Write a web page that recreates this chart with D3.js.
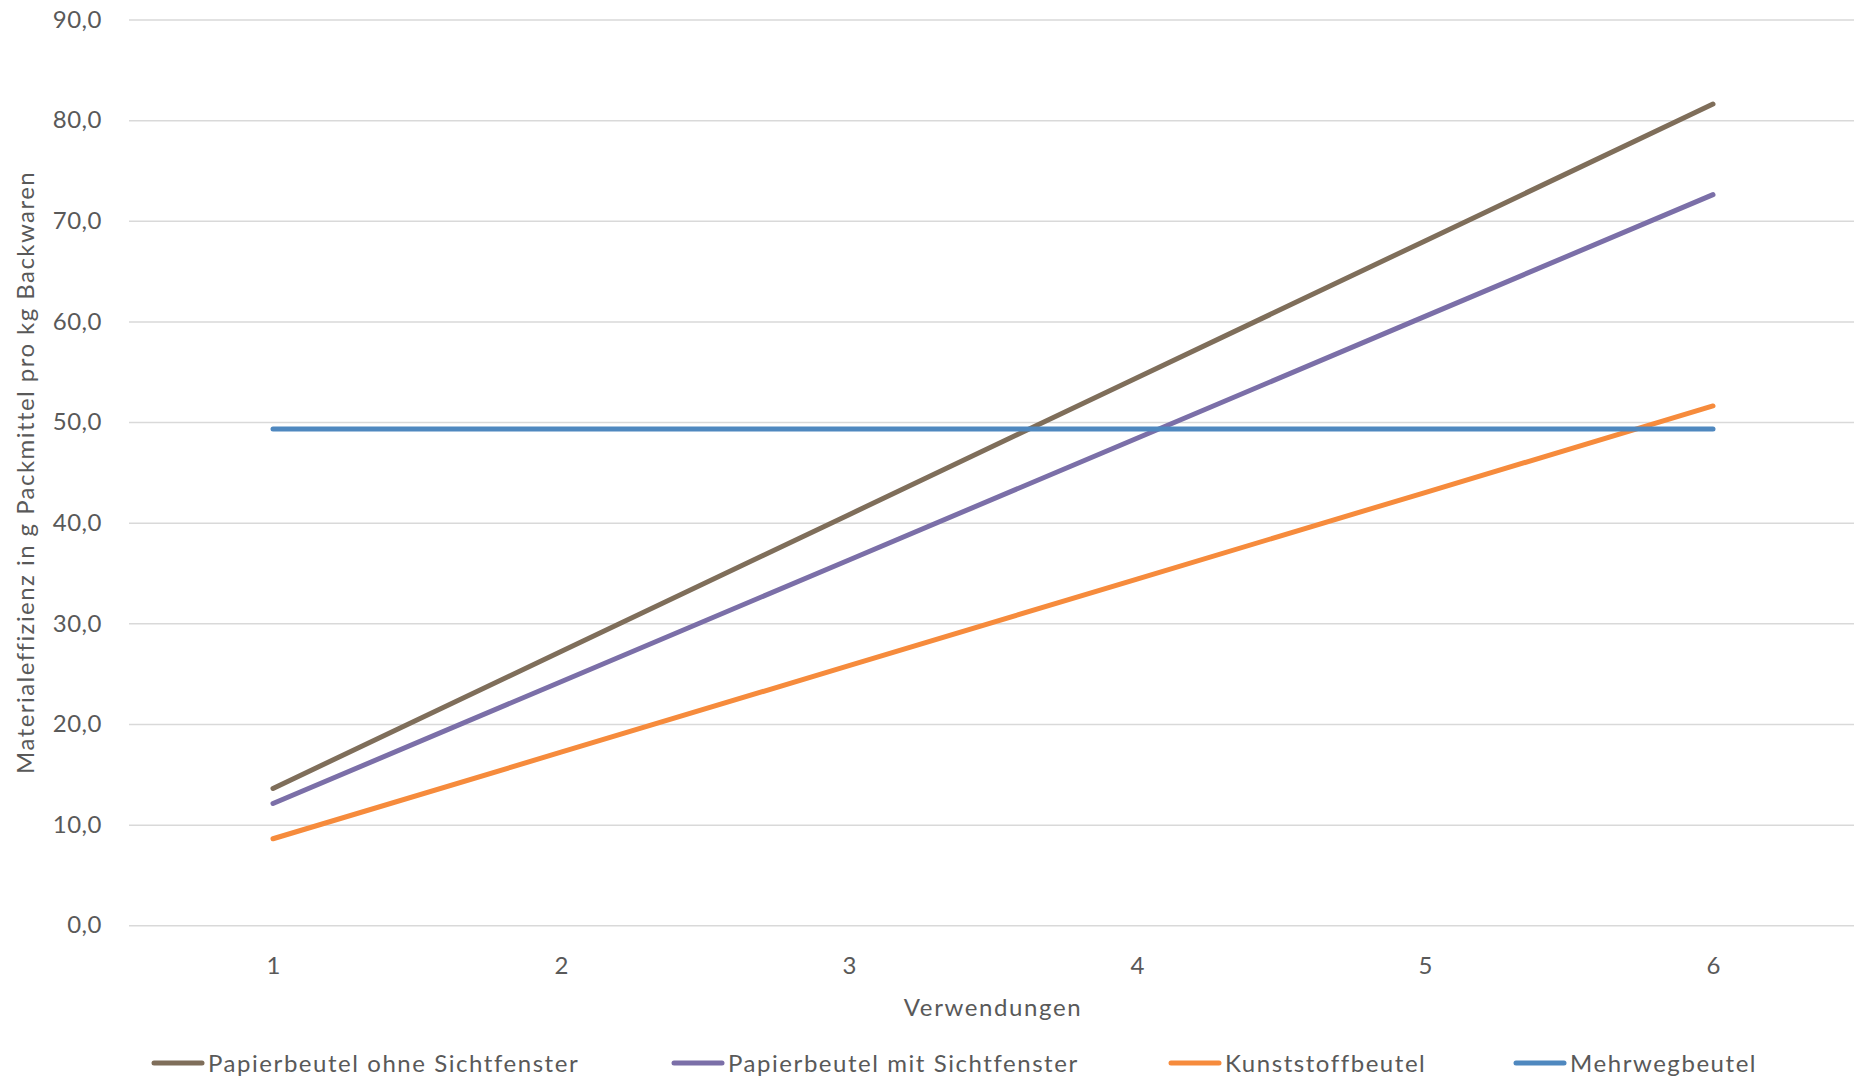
<!DOCTYPE html>
<html><head><meta charset="utf-8">
<script src="https://cdn.jsdelivr.net/npm/d3@7"></script>
<style>html,body{margin:0;padding:0;background:#fff;overflow:hidden}</style>
</head><body>
<svg id="c" width="1854" height="1079"></svg>
<script>
const categories = [1, 2, 3, 4, 5, 6];
const papierOhne = [13.6, 27.2, 40.8, 54.4, 68.0, 81.6];
const papierMit = [12.1, 24.2, 36.3, 48.4, 60.5, 72.6];
const kunststoff = [8.6, 17.2, 25.8, 34.4, 43.0, 51.6];
const mehrweg = [49.3, 49.3, 49.3, 49.3, 49.3, 49.3];
const seriesNames = ["Papierbeutel ohne Sichtfenster", "Papierbeutel mit Sichtfenster", "Kunststoffbeutel", "Mehrwegbeutel"];
const yTicks = [0, 10, 20, 30, 40, 50, 60, 70, 80, 90];
const xTitle = "Verwendungen";
const yTitle = "Materialeffizienz in g Packmittel pro kg Backwaren";

const colors = ["#7f6e5a", "#7b6fa8", "#f68b3c", "#4f88bf"];
const seriesData = [papierOhne, papierMit, kunststoff, mehrweg];

const svg = d3.select("#c");
const font = "Lato, 'Open Sans', sans-serif";
const txt = "#595959";
const L = 129, R = 1857, T = 19.5, B = 925.3;

const x = d3.scalePoint().domain(categories).range([L, R]).padding(0.5);
const y = d3.scaleLinear().domain([0, 90]).range([B, T]);
const de = d3.formatLocale({decimal: ",", thousands: ".", grouping: [3], currency: ["", "€"]});
const fmt = de.format(".1f");

// gridlines
const yAxis = d3.axisLeft(y).tickValues(yTicks).tickSize(-(1854 - L)).tickFormat(fmt).tickPadding(27);
const gy = svg.append("g").attr("transform", `translate(${L},0)`).call(yAxis);
gy.select(".domain").remove();
gy.selectAll(".tick line").attr("stroke", "#d9d9d9").attr("stroke-width", 1.5);
gy.selectAll(".tick text").attr("fill", txt).attr("font-family", font).attr("font-size", 24)
  .attr("letter-spacing", 0.5);

const xAxis = d3.axisBottom(x).tickSize(0).tickPadding(32);
const gx = svg.append("g").attr("transform", `translate(0,${B})`).call(xAxis);
gx.select(".domain").remove();
gx.selectAll(".tick text").attr("fill", txt).attr("font-family", font).attr("font-size", 24);

// lines
const line = d3.line().x((d, i) => x(categories[i])).y(d => y(d));
seriesData.forEach((s, i) => {
  svg.append("path").datum(s).attr("d", line).attr("fill", "none")
    .attr("stroke", colors[i]).attr("stroke-width", 5).attr("stroke-linecap", "round");
});

// axis titles
svg.append("text").attr("x", (L + R) / 2).attr("y", 1016).attr("text-anchor", "middle")
  .attr("fill", txt).attr("font-family", font).attr("font-size", 24).attr("letter-spacing", 1.6).text(xTitle);
svg.append("text").attr("transform", `translate(34,${(T + B) / 2}) rotate(-90)`).attr("text-anchor", "middle")
  .attr("fill", txt).attr("font-family", font).attr("font-size", 24).attr("letter-spacing", 1.45).text(yTitle);

// legend
const legendX = [154, 674, 1171, 1516];
seriesNames.forEach((n, i) => {
  const g = svg.append("g").attr("transform", `translate(${legendX[i]},1063)`);
  g.append("line").attr("x1", 0).attr("x2", 48).attr("y1", 0).attr("y2", 0)
    .attr("stroke", colors[i]).attr("stroke-width", 5).attr("stroke-linecap", "round");
  g.append("text").attr("x", 54).attr("y", 8.5).attr("fill", txt).attr("font-family", font)
    .attr("font-size", 24).attr("letter-spacing", 1.55).text(n);
});
</script>
</body></html>
